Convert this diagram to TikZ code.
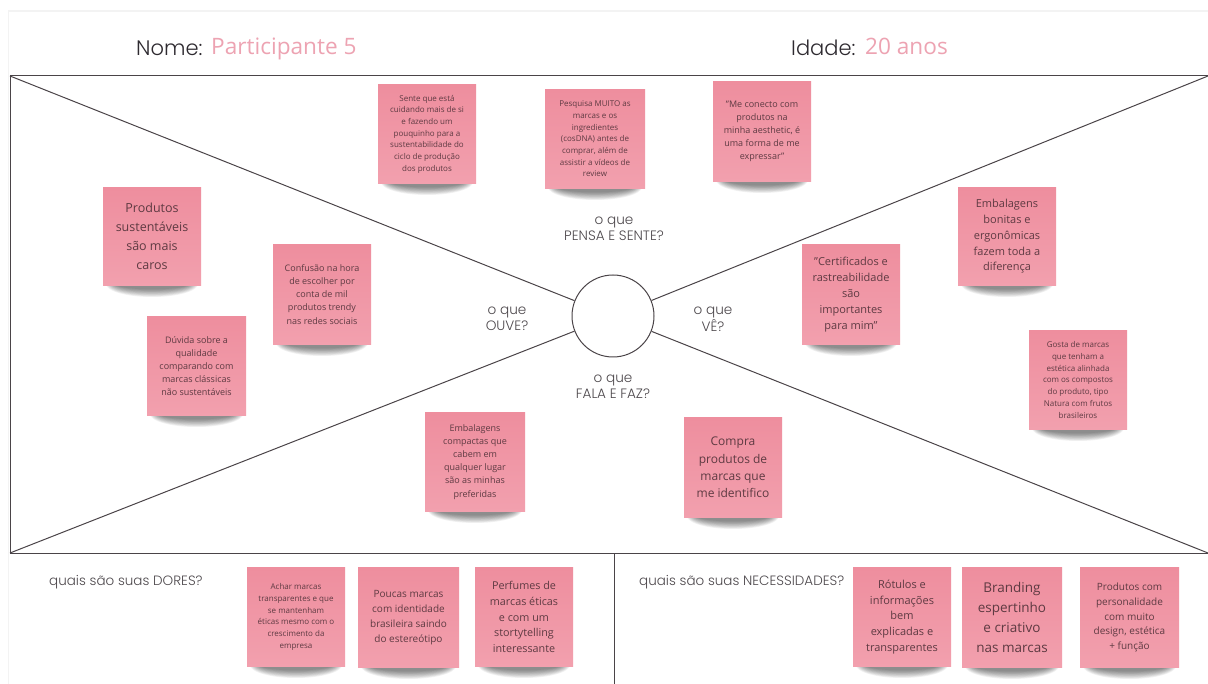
\documentclass[tikz,border=0pt]{standalone}
\usepackage{fontspec}
\setmainfont{Open Sans}
\newfontfamily\headf{Poppins}[UprightFont=* Light]
\definecolor{noteTop}{HTML}{EE8E9E}
\definecolor{noteBot}{HTML}{F2A0AE}
\definecolor{noteTxt}{HTML}{5E3A42}
\definecolor{lineC}{HTML}{4A4448}
\definecolor{pinkT}{HTML}{EDA3B2}
\definecolor{darkT}{HTML}{2E2A30}
\definecolor{quesT}{HTML}{4D484C}
\definecolor{frameC}{HTML}{F3F3F3}
\tikzset{
  rule/.style={draw=lineC,line width=1pt},
  qlabel/.style={font=\headf\fontsize{13.6}{15.5}\selectfont,text=quesT,align=center,inner sep=0pt},
  qhead/.style={font=\headf\fontsize{13.5}{15}\selectfont,text=quesT,anchor=west,inner sep=0pt},
  titleL/.style={font=\headf\fontsize{21}{24}\selectfont,text=darkT,anchor=base west,inner sep=0pt},
  titleV/.style={font=\fontsize{22.6}{24}\selectfont,text=pinkT,anchor=base west,inner sep=0pt},
  notebox/.style={inner sep=0pt,top color=noteTop,bottom color=noteBot,text=noteTxt,align=center,anchor=center},
}
% name, x0, x1, y0, y1, size, leading, text
\newcommand{\stickynote}[8]{%
  \foreach \i in {0,...,9}{%
    \fill[black,opacity=0.055] ({(#2+#3)/2},#5-1) ellipse [x radius={(#3-#2)/2-3-\i*1.0},y radius={13-\i*0.85}];
  }%
  \node[notebox,font=\fontsize{#6}{#7}\selectfont,minimum width={(#3-#2)*1pt},minimum height={(#5-#4)*1pt}] (#1) at ({(#2+#3)/2},{(#4+#5)/2+0.5})
    {#8};%
}
\begin{document}
\begin{tikzpicture}[x=1pt,y=-1pt]
\useasboundingbox (0,0) rectangle (1208,684);
\fill[white] (0,0) rectangle (1208,684);
\draw[frameC,line width=1.2pt] (8.5,684) -- (8.5,11) -- (1208,11);
% coordinates
\coordinate (tl) at (10,76);
\coordinate (tr) at (1208,76);
\coordinate (bl) at (10,553);
\coordinate (br) at (1208,553);
\coordinate (bm) at (614,553);
\coordinate (be) at (614,684);
\node[circle,draw=lineC,line width=1pt,minimum size=82pt,inner sep=0pt] (hub) at (613,316) {};
% lines
\draw[rule] (tl) -- (tr);
\draw[rule] (bl) -- (br);
\draw[rule] (tl) -- (bl);
\draw[rule] (bm) -- (be);
\draw[rule] (tl) -- (hub);
\draw[rule] (tr) -- (hub);
\draw[rule] (bl) -- (hub);
\draw[rule] (br) -- (hub);
% titles
\node[titleL] (nome) at (136,56) {Nome:};
\node[titleV] (part) at (211,55) {Participante 5};
\node[titleL] (idade) at (791,56) {Idade:};
\node[titleV] (anos) at (865,55) {20 anos};
% question labels
\node[qlabel] (qpensa) at (614,229) {o que\\PENSA E SENTE?};
\node[qlabel] (qouve) at (507,319) {o que\\OUVE?};
\node[qlabel] (qve) at (713,319) {o que\\VÊ?};
\node[qlabel] (qfala) at (613,387) {o que\\FALA E FAZ?};
\node[qhead] (qdores) at (49,582) {quais são suas DORES?};
\node[qhead] (qnec) at (639,582) {quais são suas NECESSIDADES?};
% notes
\stickynote{n1}{378}{476}{84}{183}{8}{11.7}{Sente que está\\cuidando mais de si\\e fazendo um\\pouquinho para a\\sustentabilidade do\\ciclo de produção\\dos produtos}
\stickynote{n2}{545}{645}{89}{188}{8}{11.7}{Pesquisa MUITO as\\marcas e os\\ingredientes\\(cosDNA) antes de\\comprar, além de\\assistir a vídeos de\\review}
\stickynote{n3}{713}{811}{81}{181}{9}{13}{"Me conecto com\\produtos na\\minha aesthetic, é\\uma forma de me\\expressar"}
\stickynote{n4}{103}{201}{187}{285}{12.5}{19}{Produtos\\sustentáveis\\são mais\\caros}
\stickynote{n5}{273}{371}{244}{344}{9}{13.1}{Confusão na hora\\de escolher por\\conta de mil\\produtos trendy\\nas redes sociais}
\stickynote{n6}{147}{246}{316}{415}{9}{13.1}{Dúvida sobre a\\qualidade\\comparando com\\marcas clássicas\\não sustentáveis}
\stickynote{n7}{802}{900}{244}{344}{11}{16}{"Certificados e\\rastreabilidade\\são\\importantes\\para mim"}
\stickynote{n8}{958}{1056}{187}{285}{11}{15.7}{Embalagens\\bonitas e\\ergonômicas\\fazem toda a\\diferença}
\stickynote{n9}{1029}{1127}{330}{429}{8}{11.7}{Gosta de marcas\\que tenham a\\estética alinhada\\com os compostos\\do produto, tipo\\Natura com frutos\\brasileiros}
\stickynote{n10}{425}{525}{412}{511}{9}{13.1}{Embalagens\\compactas que\\cabem em\\qualquer lugar\\são as minhas\\preferidas}
\stickynote{n11}{684}{782}{417}{517}{12}{17.2}{Compra\\produtos de\\marcas que\\me identifico}
\stickynote{n12}{247}{345}{567}{666}{8}{11.7}{Achar marcas\\transparentes e que\\se mantenham\\éticas mesmo com o\\crescimento da\\empresa}
\stickynote{n13}{358}{459}{567}{667}{10}{15}{Poucas marcas\\com identidade\\brasileira saindo\\do estereótipo}
\stickynote{n14}{475}{573}{567}{666}{10.8}{15.7}{Perfumes de\\marcas éticas\\e com um\\stortytelling\\interessante}
\stickynote{n15}{853}{951}{567}{666}{11}{15.7}{Rótulos e\\informações\\bem\\explicadas e\\transparentes}
\stickynote{n16}{962}{1062}{567}{667}{13.5}{20.2}{Branding\\espertinho\\e criativo\\nas marcas}
\stickynote{n17}{1080}{1179}{567}{667}{10}{14.7}{Produtos com\\personalidade\\com muito\\design, estética\\+ função}
\end{tikzpicture}
\end{document}
